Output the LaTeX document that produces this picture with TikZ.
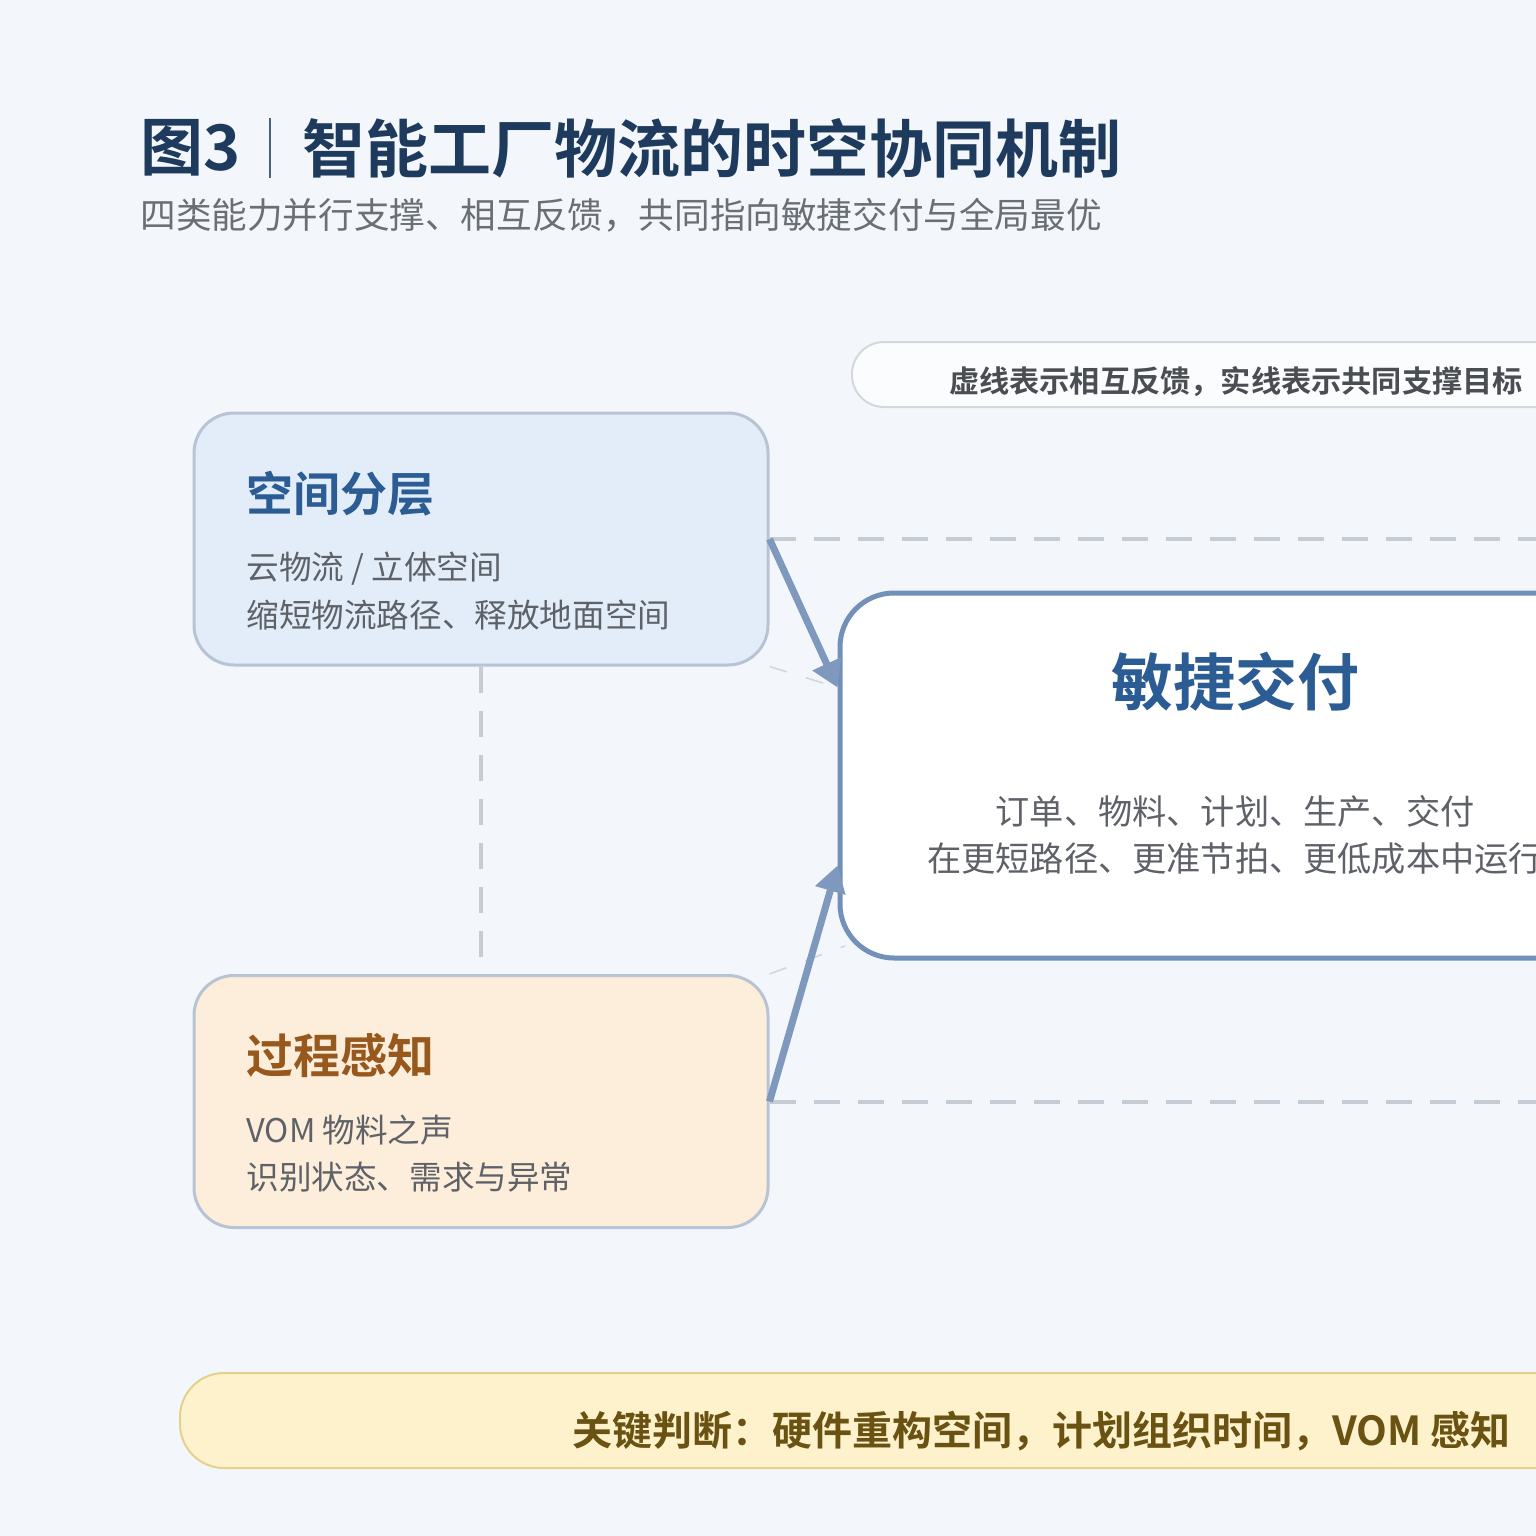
\documentclass[tikz,border=0pt]{standalone}
\usepackage{fontspec}
\setmainfont{Noto Sans CJK SC}[BoldFont={Noto Sans CJK SC Bold}]
\usetikzlibrary{arrows.meta,calc}
\definecolor{bgc}{HTML}{F3F7FB}
\definecolor{navy}{HTML}{1E3A5C}
\definecolor{subc}{HTML}{6A6F76}
\definecolor{bodyc}{HTML}{5E6268}
\definecolor{bluefill}{HTML}{E2EDF9}
\definecolor{cardline}{HTML}{B8C4D4}
\definecolor{bluetitle}{HTML}{2B5C93}
\definecolor{peachfill}{HTML}{FDEEDB}
\definecolor{browntitle}{HTML}{97581D}
\definecolor{centerline}{HTML}{7390B8}
\definecolor{arrc}{HTML}{7F98BD}
\definecolor{dashc}{HTML}{C6CCD3}
\definecolor{faintc}{HTML}{D3D6DA}
\definecolor{legline}{HTML}{D3D8DF}
\definecolor{legfill}{HTML}{FBFCFE}
\definecolor{legtext}{HTML}{4A4D52}
\definecolor{banfill}{HTML}{FDF2CC}
\definecolor{banline}{HTML}{E2D28E}
\definecolor{bantext}{HTML}{6A5212}
\begin{document}
\begin{tikzpicture}[x=0.5pt,y=-0.5pt,
  card/.style={draw=cardline, rounded corners=20pt, line width=1.5pt, minimum width=287pt, minimum height=126pt, inner sep=0pt},
  txt/.style={inner sep=0pt, anchor=west},
  fb/.style={draw=dashc, line width=2pt, dash pattern=on 13pt off 9pt},
  faint/.style={draw=faintc, line width=0.8pt, dash pattern=on 9pt off 10pt},
  arr/.style={draw=arrc, line width=3.5pt, -{Triangle[length=13pt,width=15pt]}}]
\useasboundingbox (0,0) rectangle (1536,1536);
\clip (0,0) rectangle (1536,1536);
\fill[bgc] (0,0) rectangle (1536,1536);

% title
\node[txt, text=navy] (fig) at (140,148) {\fontsize{31.5}{36}\selectfont\bfseries 图3};
\draw[navy!80, line width=1pt] (270,118) -- (270,178);
\node[txt, text=navy] (title) at (302,148) {\fontsize{31.5}{36}\selectfont\bfseries 智能工厂物流的时空协同机制};
\node[txt, text=subc] (sub) at (140,215) {\fontsize{17.8}{20}\selectfont 四类能力并行支撑、相互反馈，共同指向敏捷交付与全局最优};

% legend
\node[draw=legline, fill=legfill, line width=1pt, rounded corners=16pt, minimum width=384pt, minimum height=32.5pt] (legend) at (1236,374.5) {};
\node[inner sep=0pt, text=legtext] (legtxt) at (1236,382) {\fontsize{15.1}{17}\selectfont\bfseries 虚线表示相互反馈，实线表示共同支撑目标};

% cards
\node[card, fill=bluefill] (space) at (481,539) {};
\node[txt, text=bluetitle] (spacet) at (246,494) {\fontsize{23.5}{26}\selectfont\bfseries 空间分层};
\node[txt, text=bodyc] (spacel1) at (246,569) {\fontsize{16.3}{19}\selectfont 云物流 / 立体空间};
\node[txt, text=bodyc] (spacel2) at (246,615) {\fontsize{16.3}{19}\selectfont 缩短物流路径、释放地面空间};

\node[card, fill=peachfill] (sense) at (481,1101.5) {};
\node[txt, text=browntitle] (senset) at (246,1056) {\fontsize{23.5}{26}\selectfont\bfseries 过程感知};
\node[txt, text=bodyc] (sensel1) at (246,1130) {\fontsize{16.3}{19}\selectfont VOM 物料之声};
\node[txt, text=bodyc] (sensel2) at (246,1177) {\fontsize{16.3}{19}\selectfont 识别状态、需求与异常};

% center
\node[draw=centerline, fill=white, line width=2.5pt, rounded corners=27pt, minimum width=395pt, minimum height=182.5pt] (agile) at (1235,775.5) {};
\node[inner sep=0pt, text=bluetitle] (agilet) at (1235,682) {\fontsize{31}{34}\selectfont\bfseries 敏捷交付};
\node[inner sep=0pt, text=bodyc] (agilel1) at (1235,811) {\fontsize{17.1}{20}\selectfont 订单、物料、计划、生产、交付};
\node[inner sep=0pt, text=bodyc] (agilel2) at (1235,859) {\fontsize{17.1}{20}\selectfont 在更短路径、更准节拍、更低成本中运行};

% connectors
\coordinate (r1) at (1560,539);
\coordinate (r2) at (1560,1101.5);
\coordinate (tip1) at ($(agile.west)+(0,-88)$);
\coordinate (tip2) at ($(agile.west)+(0,90)$);
\coordinate (f2) at (845,946);
\draw[fb] (space.east) -- (r1);
\draw[fb] (sense.east) -- (r2);
\draw[fb] (space.south) -- (sense.north);
\draw[faint] (space.south east) -- (tip1);
\draw[faint] (sense.north east) -- (f2);
\draw[arr] (space.east) -- (tip1);
\draw[arr] (sense.east) -- (tip2);

% banner
\node[draw=banline, fill=banfill, line width=1pt, rounded corners=22pt, minimum width=860pt, minimum height=47.5pt] (banner) at (1040,1420.5) {};
\node[txt, text=bantext] (bantxt) at (572,1431) {\fontsize{20}{23}\selectfont\bfseries 关键判断：硬件重构空间，计划组织时间，VOM 感知};
\end{tikzpicture}
\end{document}
